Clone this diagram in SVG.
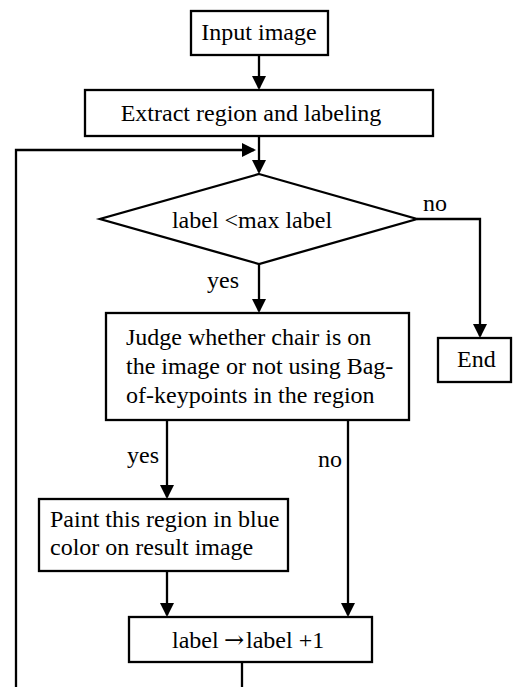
<svg xmlns="http://www.w3.org/2000/svg" width="513" height="687" viewBox="0 0 513 687">
  <style>
    .box { fill: #ffffff; stroke: #000000; stroke-width: 2.3; }
    .line { fill: none; stroke: #000000; stroke-width: 2.3; }
    text { font-family: "Liberation Serif", "Times New Roman", "DejaVu Serif", serif; font-size: 24px; fill: #000000; }
    .mid { text-anchor: middle; }
    .sym { font-family: "DejaVu Serif", "Liberation Serif", serif; font-size: 24px; }
  </style>
  <defs>
    <!-- filled arrowhead; tip sits 2px past the end of the line -->
    <marker id="arrow" markerUnits="userSpaceOnUse" markerWidth="15" markerHeight="15" refX="12" refY="7" orient="auto">
      <path d="M0,0 L14,7 L0,14 z" fill="#000000"/>
    </marker>
  </defs>
  <rect width="513" height="687" fill="#ffffff"/>

  <!-- connectors -->
  <g id="connectors">
    <path class="line" d="M259,55 V88" marker-end="url(#arrow)"/>
    <path class="line" d="M259,136 V172" marker-end="url(#arrow)"/>
    <path class="line" d="M242,662 V700 H16 V150 H254" marker-end="url(#arrow)"/>
    <path class="line" d="M417,219 H480 V336" marker-end="url(#arrow)"/>
    <path class="line" d="M259,264 V311" marker-end="url(#arrow)"/>
    <path class="line" d="M167,420 V497" marker-end="url(#arrow)"/>
    <path class="line" d="M348,420 V615" marker-end="url(#arrow)"/>
    <path class="line" d="M167,571 V615" marker-end="url(#arrow)"/>
    <text x="423" y="211">no</text>
    <text x="207" y="288">yes</text>
    <text x="127" y="463">yes</text>
    <text x="318" y="467">no</text>
  </g>

  <g id="input">
    <rect class="box" x="191" y="11" width="137" height="44"/>
    <text class="mid" x="259" y="40">Input image</text>
  </g>

  <g id="extract">
    <rect class="box" x="85" y="90" width="348" height="46"/>
    <text class="mid" x="251" y="121">Extract region and labeling</text>
  </g>

  <g id="decision">
    <polygon class="box" points="259,174 417,219 259,264 100,219"/>
    <text class="mid" x="252" y="228">label &lt;max label</text>
  </g>

  <g id="end">
    <rect class="box" x="438" y="338" width="73" height="44"/>
    <text x="457" y="367">End</text>
  </g>

  <g id="judge">
    <rect class="box" x="106" y="313" width="303" height="107"/>
    <text x="126" y="345">Judge whether chair is on</text>
    <text x="126" y="374">the image or not using Bag-</text>
    <text x="126" y="403">of-keypoints in the region</text>
  </g>

  <g id="paint">
    <rect class="box" x="39" y="499" width="249" height="72"/>
    <text x="50" y="527">Paint this region in blue</text>
    <text x="50" y="555">color on result image</text>
  </g>

  <g id="increment">
    <rect class="box" x="129" y="617" width="243" height="45"/>
    <text x="172" y="648">label <tspan class="sym" x="224">→</tspan><tspan x="246">label +1</tspan></text>
  </g>
</svg>
